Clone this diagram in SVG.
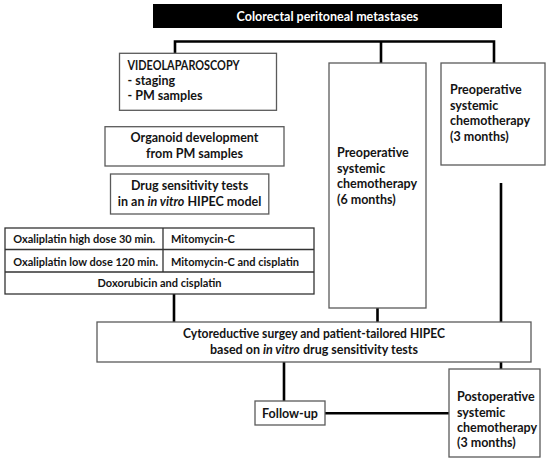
<svg xmlns="http://www.w3.org/2000/svg" width="550" height="462" viewBox="0 0 550 462">
<style>
.bx{fill:#fff;stroke:#5a5a5a;stroke-width:1.3}
.tb{fill:none;stroke:#333;stroke-width:1.3}
.t{font-family:Lato,"Liberation Sans",sans-serif;font-weight:bold;font-size:12.5px;fill:#141414}
.s{font-size:11px}
.c{text-anchor:middle}
.w{fill:#fff}
.cn{fill:none;stroke:#000;stroke-width:2.6}
</style>
<rect width="550" height="462" fill="#fff"/>
<g id="connectors">
<path class="cn" d="M175,53 V41.5 H494 V63 M381,41.5 V63"/>
<path class="cn" d="M174,294 V322 M377.5,308 V322 M501,183 V322"/>
<path class="cn" d="M284,362 V401 M501,362 V369 M325,413.3 H449"/>
</g>
<g id="title">
<rect x="153" y="4" width="349" height="24" fill="#000"/>
<text class="t c w" x="327.5" y="21">Colorectal peritoneal metastases</text>
</g>
<g id="videolaparoscopy">
<rect class="bx" x="119.5" y="53.3" width="157" height="57"/>
<text class="t" x="127.5" y="70" textLength="112" lengthAdjust="spacingAndGlyphs">VIDEOLAPAROSCOPY</text>
<text class="t" x="127.5" y="85">- staging</text>
<text class="t" x="127.5" y="100">- PM samples</text>
</g>
<g id="organoid">
<rect class="bx" x="105" y="126.7" width="179" height="39.3"/>
<text class="t c" x="194.5" y="142">Organoid development</text>
<text class="t c" x="194.5" y="158">from PM samples</text>
</g>
<g id="drug-tests">
<rect class="bx" x="110.5" y="174" width="158.3" height="40"/>
<text class="t c" x="189.6" y="190">Drug sensitivity tests</text>
<text class="t c" x="189.6" y="205.5">in an <tspan font-style="italic">in vitro</tspan> HIPEC model</text>
</g>
<g id="preop-6">
<rect class="bx" x="329" y="63" width="97" height="245"/>
<text class="t" x="337" y="157">Preoperative</text>
<text class="t" x="337" y="172.5">systemic</text>
<text class="t" x="337" y="188">chemotherapy</text>
<text class="t" x="337" y="203.5">(6 months)</text>
</g>
<g id="preop-3">
<rect class="bx" x="441" y="63" width="104" height="102"/>
<text class="t" x="450" y="94">Preoperative</text>
<text class="t" x="450" y="109.5">systemic</text>
<text class="t" x="450" y="125">chemotherapy</text>
<text class="t" x="450" y="140.5">(3 months)</text>
</g>
<g id="drug-table">
<rect class="tb" x="5" y="228" width="309" height="66"/>
<path class="tb" d="M5,249.5 H314 M5,272 H314 M163,228 V272"/>
<text class="t s" x="13.3" y="243">Oxaliplatin high dose 30 min.</text>
<text class="t s" x="171" y="243">Mitomycin-C</text>
<text class="t s" x="13.3" y="265.5">Oxaliplatin low dose 120 min.</text>
<text class="t s" x="171" y="265.5">Mitomycin-C and cisplatin</text>
<text class="t s c" x="159.5" y="287">Doxorubicin and cisplatin</text>
</g>
<g id="surgery">
<rect class="bx" x="97" y="322" width="434" height="40"/>
<text class="t c" x="314" y="338" textLength="262" lengthAdjust="spacingAndGlyphs">Cytoreductive surgey and patient-tailored HIPEC</text>
<text class="t c" x="314" y="353.5">based on <tspan font-style="italic">in vitro</tspan> drug sensitivity tests</text>
</g>
<g id="follow-up">
<rect class="bx" x="255" y="401" width="70" height="24"/>
<text class="t c" x="290" y="417.5">Follow-up</text>
</g>
<g id="postop">
<rect class="bx" x="449" y="369" width="91" height="88"/>
<text class="t" x="457" y="401">Postoperative</text>
<text class="t" x="457" y="416.5">systemic</text>
<text class="t" x="457" y="432">chemotherapy</text>
<text class="t" x="457" y="447">(3 months)</text>
</g>
</svg>
